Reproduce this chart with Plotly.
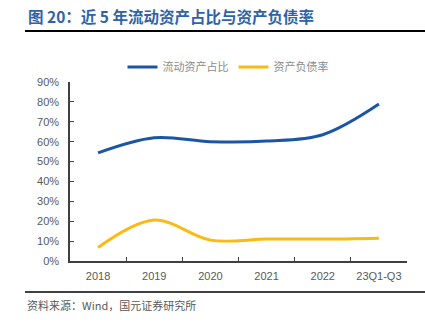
import plotly.graph_objects as go

categories = ["2018", "2019", "2020", "2021", "2022", "23Q1-Q3"]
current_asset_ratio = [54.4, 62.0, 60.0, 60.3, 63.5, 78.9]
debt_ratio = [6.8, 20.6, 10.5, 11.0, 11.0, 11.5]
y_ticks = [0, 10, 20, 30, 40, 50, 60, 70, 80, 90]
y_tick_labels = [f"{v}%" for v in y_ticks]

W, H = 425, 327
L, R, T, B = 70, 407, 82, 261

def px(x):
    return (x - L) / (R - L)

def py(y):
    return (B - y) / (B - T)

fig = go.Figure()
fig.add_trace(go.Scatter(
    x=categories, y=current_asset_ratio, name="流动资产占比", mode="lines",
    line=dict(color="#1A56A5", width=3, shape="spline", smoothing=1.0)))
fig.add_trace(go.Scatter(
    x=categories, y=debt_ratio, name="资产负债率", mode="lines",
    line=dict(color="#FDB913", width=3, shape="spline", smoothing=1.0)))

fig.update_layout(
    width=W, height=H,
    margin=dict(l=L, r=W - R, t=T, b=H - B),
    paper_bgcolor="white", plot_bgcolor="white",
    showlegend=True,
    legend=dict(orientation="h", x=px(228), y=py(67), xanchor="center", yanchor="middle",
                font=dict(family="Noto Sans CJK SC", size=11, color="#8C8C8C"),
                itemwidth=30, tracegroupgap=0, bgcolor="rgba(0,0,0,0)"),
    xaxis=dict(type="category", range=[-0.5, 5.5], tickson="boundaries",
               ticks="inside", ticklen=4, tickcolor="#404040", tickwidth=1,
               showline=True, linecolor="#404040", linewidth=1.5,
               showgrid=False, zeroline=False, ticklabelstandoff=4,
               tickfont=dict(family="Liberation Sans", size=11, color="#595959")),
    yaxis=dict(range=[0, 90], tickvals=y_ticks, ticktext=y_tick_labels,
               ticks="inside", ticklen=4, tickcolor="#404040", tickwidth=1,
               showline=True, linecolor="#404040", linewidth=1.5,
               showgrid=False, zeroline=False, ticklabelstandoff=7,
               tickfont=dict(family="Liberation Sans", size=11, color="#595959")),
)

fig.add_annotation(text="<b>图 20：近 5 年流动资产占比与资产负债率</b>",
                   xref="paper", yref="paper", x=px(26), y=py(16),
                   xanchor="left", yanchor="middle", showarrow=False,
                   font=dict(family="Noto Sans CJK SC", size=15.5, color="#2E63A8"))
fig.add_annotation(text="资料来源：Wind，国元证券研究所",
                   xref="paper", yref="paper", x=px(25), y=py(305),
                   xanchor="left", yanchor="middle", showarrow=False,
                   font=dict(family="Noto Sans CJK SC", size=11, color="#595959"))
fig.add_shape(type="line", xref="paper", yref="paper",
              x0=px(25), x1=px(425), y0=py(31), y1=py(31),
              line=dict(color="#000000", width=2))
fig.add_shape(type="line", xref="paper", yref="paper",
              x0=px(25), x1=px(425), y0=py(292), y1=py(292),
              line=dict(color="#000000", width=1.5))

fig.write_html("out.html")
